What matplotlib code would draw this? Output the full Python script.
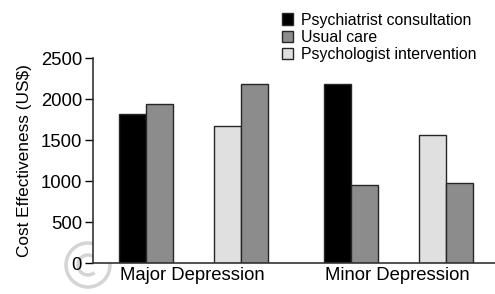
import numpy as np
import matplotlib.pyplot as plt
from matplotlib.patches import Arc

plt.rcParams['font.family'] = ['Liberation Sans', 'DejaVu Sans']

categories = ['Major Depression', 'Minor Depression']
psychiatrist = [1813, 2183]
usual_care_psychiatrist = [1939, 951]
psychologist = [1675, 1565]
usual_care_psychologist = [2179, 979]

black = '#000000'
grey = '#8c8c8c'
light = '#e0e0e0'
edge = '#262626'

fig = plt.figure(figsize=(4.95, 2.94), dpi=100)
ax = fig.add_axes([0.188, 0.1054, 0.812, 0.6973])

w = 0.284
pair_x = np.array([0.0, 2.158])      # psychiatrist vs usual care
pair_x2 = pair_x + 1.0               # psychologist vs usual care

b1 = ax.bar(pair_x - w / 2, psychiatrist, w, color=black, edgecolor=edge, linewidth=1)
b2 = ax.bar(pair_x + w / 2, usual_care_psychiatrist, w, color=grey, edgecolor=edge, linewidth=1)
b3 = ax.bar(pair_x2 - w / 2, psychologist, w, color=light, edgecolor=edge, linewidth=1)
ax.bar(pair_x2 + w / 2, usual_care_psychologist, w, color=grey, edgecolor=edge, linewidth=1)

ax.set_xlim(-0.558, 3.674)
ax.set_ylim(0, 2500)
ax.set_yticks([0, 500, 1000, 1500, 2000, 2500])
ax.set_xticks((pair_x + pair_x2) / 2 - 0.01)
ax.set_xticklabels(categories, fontsize=13.3)
ax.tick_params(axis='x', length=0, pad=3)
ax.tick_params(axis='y', labelsize=13.3, length=6, width=1, pad=2)
ax.set_ylabel('Cost Effectiveness (US$)', fontsize=12.4, labelpad=6)

for s in ['top', 'right']:
    ax.spines[s].set_visible(False)
for s in ['left', 'bottom']:
    ax.spines[s].set_linewidth(1.2)
    ax.spines[s].set_color('#333333')

# faint copyright watermark, drawn as rings
wm = dict(transform=fig.dpi_scale_trans, color='#d4d4d4', lw=2.5, zorder=0)
fig.add_artist(Arc((0.88, 0.29), 0.44, 0.44, **wm))
fig.add_artist(Arc((0.88, 0.29), 0.2, 0.2, theta1=50, theta2=310, **wm))

fig.legend([b1, b2, b3],
           ['Psychiatrist consultation', 'Usual care', 'Psychologist intervention'],
           loc='upper left', bbox_to_anchor=(0.548, 0.995), frameon=False,
           fontsize=11.4, handlelength=0.7, handleheight=0.7,
           handletextpad=0.45, labelspacing=0.15, borderaxespad=0.3)

fig.savefig('out.png', dpi=100)
